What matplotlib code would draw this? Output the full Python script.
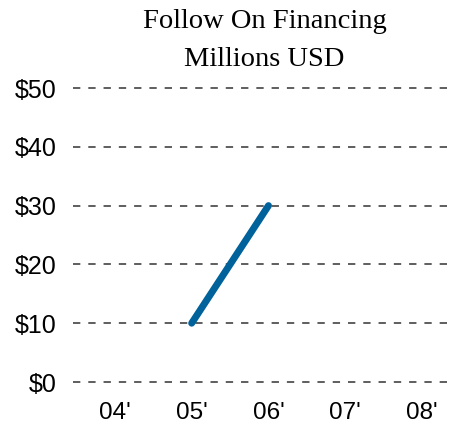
import matplotlib.pyplot as plt

# data
years = ["04'", "05'", "06'", "07'", "08'"]
x_pos = [0, 1, 2, 3, 4]
line_x = [1, 2]
line_y = [10, 30]
yticks = [0, 10, 20, 30, 40, 50]
ylabels = ["$0", "$10", "$20", "$30", "$40", "$50"]

fig = plt.figure(figsize=(4.49, 4.30), dpi=100)
ax = fig.add_axes([73/449, 48/430, 1 - 73/449, 294/430])

for y in yticks:
    ax.axhline(y, color="#333333", lw=1.1, dashes=(4.8, 5.2), zorder=1, clip_on=False)

ax.plot(line_x, line_y, color="#00629B", lw=5, solid_capstyle="round", zorder=3, clip_on=False)

ax.set_xlim(-0.545, 4.35)
ax.set_ylim(0, 50)
ax.set_xticks(x_pos)
ax.set_xticklabels(years, fontsize=17.5, family="Liberation Sans")
ax.set_yticks(yticks)
ax.set_yticklabels(ylabels, fontsize=18, family="Liberation Sans")
ax.tick_params(axis="both", length=0)
ax.tick_params(axis="x", pad=14.5)
ax.tick_params(axis="y", pad=12)
for s in ax.spines.values():
    s.set_visible(False)

fig.text(0.589, 1 - 22/430, "Follow On Financing", ha="center", va="center",
         fontsize=20.5, family="Liberation Serif")
fig.text(0.589, 1 - 60/430, "Millions USD", ha="center", va="center",
         fontsize=20.5, family="Liberation Serif")

fig.savefig("out.png", dpi=100)
